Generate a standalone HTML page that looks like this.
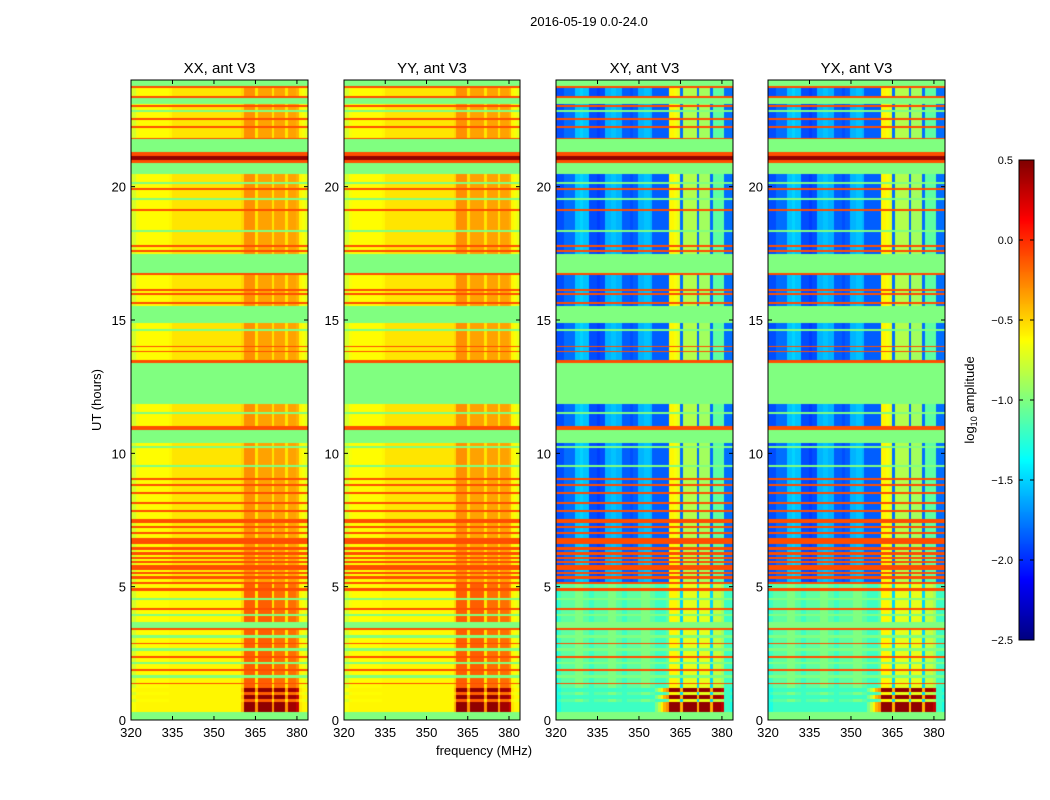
<!DOCTYPE html>
<html><head><meta charset="utf-8">
<style>
html,body{margin:0;padding:0;background:#fff;}
#wrap{position:relative;width:1050px;height:800px;overflow:hidden;font-family:"Liberation Sans",sans-serif;}
canvas,svg{position:absolute;left:0;top:0;}
</style></head>
<body>
<div id="wrap">
<canvas id="cv" width="1050" height="800"></canvas>
<svg id="sv" width="1050" height="800">
<text x="589" y="26" font-size="13" text-anchor="middle">2016-05-19 0.0-24.0</text>
<text x="484" y="755" font-size="13" text-anchor="middle">frequency (MHz)</text>
<text transform="translate(101,400) rotate(-90)" font-size="13" text-anchor="middle">UT (hours)</text>
<text transform="translate(974,400) rotate(-90)" font-size="13" text-anchor="middle">log<tspan font-size="9" dy="3">10</tspan><tspan dy="-3"> amplitude</tspan></text>
<g id="axes"></g>
</svg>
</div>
<script>
// ---- data ----
const panelTitles = ["XX, ant V3","YY, ant V3","XY, ant V3","YX, ant V3"];
const xTicks = [320,335,350,365,380];
const yTicks = [0,5,10,15,20];
const cbTicks = [0.5,0.0,-0.5,-1.0,-1.5,-2.0,-2.5];
// time bands: start hour, end hour, kind (0 flagged,1 data,2 orange line,3 dark red,4 low data,5 hot data)
const bandStart = [0,0.3,0.7,0.8,0.95,1.05,1.2,1.35,1.42,1.6,1.7,1.85,1.92,2.1,2.2,2.35,2.42,2.6,2.7,2.85,2.92,3.1,3.2,3.4,3.47,3.7,3.9,4.0,4.15,4.22,4.5,4.6,4.85,4.95,5.1,5.2,5.3,5.4,5.5,5.58,5.66,5.74,5.82,5.9,5.98,6.06,6.14,6.22,6.3,6.4,6.5,6.6,6.85,7.4,7.55,10.4,10.9,11.05,11.85,13.4,13.5,13.8,13.85,14.0,14.05,14.9,15.55,16.75,17.5,20.5,20.9,21.0,21.15,21.3,21.8,21.86,23.1,23.35,23.4,23.7,23.8];
const bandEnd   = [0.3,0.7,0.8,0.95,1.05,1.2,1.35,1.42,1.6,1.7,1.85,1.92,2.1,2.2,2.35,2.42,2.6,2.7,2.85,2.92,3.1,3.2,3.4,3.47,3.7,3.9,4.0,4.15,4.22,4.5,4.6,4.85,4.95,5.1,5.2,5.3,5.4,5.5,5.58,5.66,5.74,5.82,5.9,5.98,6.06,6.14,6.22,6.3,6.4,6.5,6.6,6.85,7.4,7.55,10.4,10.9,11.05,11.85,13.4,13.5,13.8,13.85,14.0,14.05,14.9,15.55,16.75,17.5,20.5,20.9,21.0,21.15,21.3,21.8,21.86,23.1,23.35,23.4,23.7,23.8,24];
const bandKind  = [0,5,4,5,4,5,4,2,4,0,4,2,4,0,4,2,4,0,4,2,4,0,4,2,0,4,0,4,2,4,0,4,2,4,2,1,2,1,2,1,2,2,1,2,1,2,1,2,1,2,1,2,1,2,1,0,2,1,0,2,1,2,1,2,1,0,1,0,1,0,2,3,2,0,2,1,0,2,1,2,0];
const redLines = [7.0,7.2,7.8,8.1,8.5,8.8,9.0,15.6,15.95,16.1,16.7,17.55,17.75,19.1,19.9,22.2,22.5,23.0];
const greenLines = [9.5,10.2,11.5,14.6,18.3,19.5,20.1,22.8];
// column profiles, one value per MHz 320..383
const profXX1 = [-0.75,-0.75,-0.65,-0.62,-0.62,-0.62,-0.62,-0.62,-0.62,-0.62,-0.62,-0.62,-0.62,-0.62,-0.6,-0.55,-0.55,-0.55,-0.55,-0.55,-0.55,-0.55,-0.55,-0.55,-0.55,-0.55,-0.55,-0.55,-0.55,-0.55,-0.55,-0.55,-0.55,-0.55,-0.55,-0.55,-0.55,-0.55,-0.55,-0.55,-0.5,-0.3,-0.3,-0.3,-0.3,-0.55,-0.35,-0.35,-0.35,-0.35,-0.35,-0.55,-0.35,-0.35,-0.35,-0.35,-0.55,-0.35,-0.35,-0.35,-0.4,-0.6,-0.65,-0.7];
const profXX4 = [-0.75,-0.75,-0.65,-0.62,-0.62,-0.62,-0.62,-0.62,-0.62,-0.62,-0.62,-0.62,-0.62,-0.62,-0.6,-0.6,-0.6,-0.6,-0.6,-0.6,-0.6,-0.6,-0.6,-0.6,-0.6,-0.6,-0.6,-0.6,-0.6,-0.6,-0.6,-0.6,-0.6,-0.6,-0.6,-0.6,-0.6,-0.6,-0.6,-0.6,-0.5,-0.15,-0.15,-0.15,-0.15,-0.55,-0.15,-0.15,-0.15,-0.15,-0.15,-0.55,-0.2,-0.2,-0.2,-0.2,-0.55,-0.2,-0.2,-0.2,-0.3,-0.6,-0.65,-0.7];
const profXX5 = [-0.65,-0.65,-0.6,-0.6,-0.6,-0.6,-0.6,-0.6,-0.6,-0.6,-0.6,-0.6,-0.6,-0.6,-0.6,-0.6,-0.6,-0.6,-0.6,-0.6,-0.6,-0.6,-0.6,-0.6,-0.6,-0.6,-0.6,-0.6,-0.6,-0.6,-0.6,-0.6,-0.6,-0.6,-0.6,-0.6,-0.6,-0.6,-0.6,-0.6,-0.4,0.45,0.45,0.45,0.45,-0.3,0.45,0.45,0.45,0.45,0.45,-0.3,0.45,0.45,0.45,0.45,-0.3,0.4,0.4,0.4,0.3,-0.55,-0.6,-0.6];
const profXY1 = [-1.9,-1.9,-1.9,-1.8,-1.8,-1.8,-1.8,-1.55,-1.55,-1.5,-1.55,-1.55,-1.9,-1.9,-1.9,-1.95,-1.9,-1.9,-1.6,-1.6,-1.55,-1.55,-1.6,-1.6,-1.85,-1.85,-1.85,-1.9,-1.85,-1.85,-1.6,-1.6,-1.55,-1.55,-1.6,-1.85,-1.85,-1.85,-1.85,-1.85,-1.85,-0.6,-0.6,-0.65,-0.7,-1.8,-0.85,-0.85,-0.85,-0.85,-0.85,-1.8,-0.9,-0.9,-0.9,-0.9,-1.8,-1.1,-1.1,-1.1,-1.1,-1.8,-1.8,-1.8];
const profXY4 = [-1.3,-1.2,-1.1,-1.1,-1.1,-1.1,-1.1,-1.0,-1.0,-1.0,-1.1,-1.1,-1.2,-1.2,-1.1,-1.1,-1.1,-1.1,-1.1,-1.0,-1.0,-1.0,-1.1,-1.1,-1.2,-1.2,-1.1,-1.1,-1.1,-1.1,-1.1,-1.0,-1.0,-1.0,-1.1,-1.1,-1.2,-1.2,-1.2,-1.2,-1.1,-0.6,-0.6,-0.6,-0.7,-1.5,-0.7,-0.7,-0.7,-0.7,-0.7,-1.5,-0.7,-0.7,-0.7,-0.7,-1.5,-0.8,-0.8,-0.8,-0.9,-1.2,-1.2,-1.2];
const profXY5 = [-1.3,-1.3,-1.2,-1.2,-1.2,-1.2,-1.2,-1.2,-1.2,-1.2,-1.2,-1.2,-1.2,-1.2,-1.2,-1.2,-1.2,-1.2,-1.2,-1.2,-1.2,-1.2,-1.2,-1.2,-1.2,-1.2,-1.2,-1.2,-1.2,-1.2,-1.2,-1.2,-1.2,-1.2,-1.2,-1.2,-1.0,-0.8,-0.6,-0.4,-0.3,0.45,0.45,0.45,0.45,-0.4,0.45,0.45,0.45,0.45,0.45,-0.4,0.45,0.45,0.45,0.45,-0.4,0.4,0.4,0.4,0.3,-1.2,-1.2,-1.3];
const flagValue = -1.0, lineValue = -0.1, darkValue = 0.45;

// ---- layout ----
const panelX0 = [131,344,556,768], panelX1 = [308,520,733,945];
const Y0 = 80, Y1 = 720, fMin = 320, fMax = 384, hMin = 0, hMax = 24;
const vMin = -2.5, vMax = 0.5;
const cbX0 = 1019, cbX1 = 1034, cbY0 = 160, cbY1 = 640;

function yScale(h){ return Y1 - (h - hMin) / (hMax - hMin) * (Y1 - Y0); }
function xScale(p, f){ return panelX0[p] + (f - fMin) / (fMax - fMin) * (panelX1[p] - panelX0[p]); }
function clamp(v){ return Math.max(0, Math.min(1, v)); }
function jet(v){
  const t = clamp((v - vMin) / (vMax - vMin));
  const r = clamp(1.5 - Math.abs(4*t - 3)), g = clamp(1.5 - Math.abs(4*t - 2)), b = clamp(1.5 - Math.abs(4*t - 1));
  return "rgb(" + Math.round(r*255) + "," + Math.round(g*255) + "," + Math.round(b*255) + ")";
}
const profiles = [
  {1:profXX1,4:profXX4,5:profXX5},
  {1:profXX1,4:profXX4,5:profXX5},
  {1:profXY1,4:profXY4,5:profXY5},
  {1:profXY1,4:profXY4,5:profXY5}
];
function cellValue(p, kind, c){
  if (kind === 0) return flagValue;
  if (kind === 2) return lineValue;
  if (kind === 3) return darkValue;
  return profiles[p][kind][c];
}
const ctx = document.getElementById('cv').getContext('2d');
const nCols = profXX1.length;
function drawRow(p, h0, h1, kind){
  const yt = yScale(h1), yb = yScale(h0);
  for (let c = 0; c < nCols; c++){
    const xa = xScale(p, fMin + c), xb = xScale(p, fMin + c + 1);
    ctx.fillStyle = jet(cellValue(p, kind, c));
    ctx.fillRect(Math.floor(xa), Math.floor(yt), Math.ceil(xb) - Math.floor(xa), Math.max(1, Math.ceil(yb) - Math.floor(yt)));
  }
}
for (let p = 0; p < 4; p++){
  for (let i = 0; i < bandStart.length; i++) drawRow(p, bandStart[i], bandEnd[i], bandKind[i]);
  for (const h of redLines) drawRow(p, h, h + 0.04, 2);
  for (const h of greenLines) drawRow(p, h, h + 0.04, 0);
}
// colorbar
for (let y = cbY0; y < cbY1; y++){
  const v = vMax - (y - cbY0 + 0.5) / (cbY1 - cbY0) * (vMax - vMin);
  ctx.fillStyle = jet(v);
  ctx.fillRect(cbX0, y, cbX1 - cbX0, 1);
}

// ---- axes ----
const NS = "http://www.w3.org/2000/svg";
const g = document.getElementById('axes');
function mk(tag, attrs){ const e = document.createElementNS(NS, tag); for (const k in attrs) e.setAttribute(k, attrs[k]); g.appendChild(e); return e; }
for (let p = 0; p < 4; p++){
  const fr = mk('rect', {x:panelX0[p], y:Y0, width:panelX1[p]-panelX0[p], height:Y1-Y0, fill:'none', stroke:'#000', 'stroke-width':1});
  
  
  const tt = mk('text', {x:(panelX0[p]+panelX1[p])/2, y:73, 'font-size':15, 'text-anchor':'middle'});
  tt.textContent = panelTitles[p];
  
  
  for (const f of xTicks){
    const x = xScale(p, f);
    const t1 = mk('line', {x1:x, x2:x, y1:Y1, y2:Y1-4, stroke:'#000'});
    
    
    const t2 = mk('line', {x1:x, x2:x, y1:Y0, y2:Y0+4, stroke:'#000'});
    
    
    const lb = mk('text', {x:x, y:Y1+17, 'font-size':13, 'text-anchor':'middle'});
    lb.textContent = f;
    
    
  }
  for (const h of yTicks){
    const y = yScale(h);
    const t1 = mk('line', {x1:panelX0[p], x2:panelX0[p]+4, y1:y, y2:y, stroke:'#000'});
    
    
    const t2 = mk('line', {x1:panelX1[p], x2:panelX1[p]-4, y1:y, y2:y, stroke:'#000'});
    
    
    const lb = mk('text', {x:panelX0[p]-5, y:y+5, 'font-size':13, 'text-anchor':'end'});
    lb.textContent = h;
    
    
  }
}
const cbf = mk('rect', {x:cbX0, y:cbY0, width:cbX1-cbX0, height:cbY1-cbY0, fill:'none', stroke:'#000'});


for (const v of cbTicks){
  const y = cbY0 + (vMax - v) / (vMax - vMin) * (cbY1 - cbY0);
  const tl = mk('line', {x1:cbX1, x2:cbX1-4, y1:y, y2:y, stroke:'#000'});
  
  
  const tr = mk('line', {x1:cbX0, x2:cbX0+4, y1:y, y2:y, stroke:'#000'});
  
  
  const lb = mk('text', {x:1013, y:y+4, 'font-size':11, 'text-anchor':'end'});
  lb.textContent = v.toFixed(1).replace('-', '\u2212');
  
  
}
</script>
</body></html>
